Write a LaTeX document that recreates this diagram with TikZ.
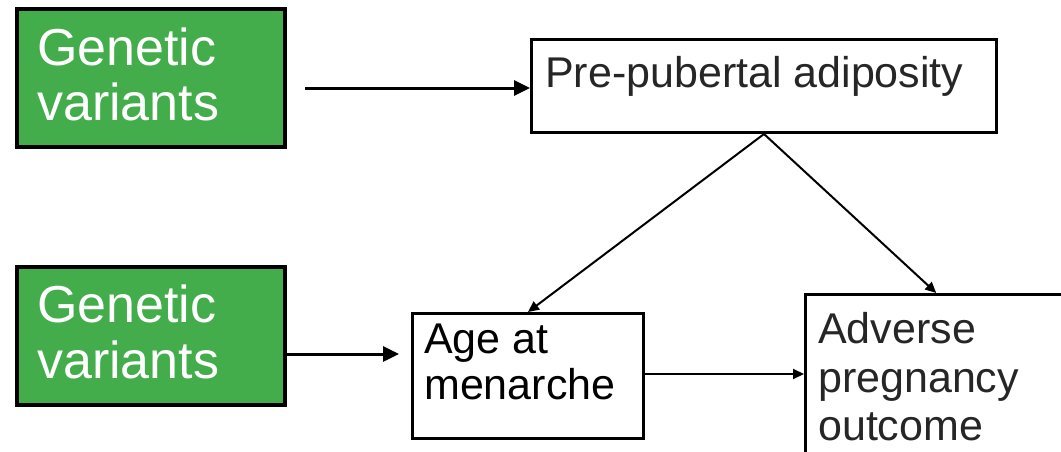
\documentclass[tikz,border=0pt]{standalone}
\usepackage{fontspec}
\setmainfont{Liberation Sans}
\usetikzlibrary{arrows.meta}
\definecolor{gvgreen}{HTML}{42AD4A}
\definecolor{txtgray}{HTML}{262626}
\begin{document}
\begin{tikzpicture}[x=1pt,y=-1pt,
  gbox/.style={draw=black, fill=gvgreen, line width=4pt, rectangle, inner sep=0pt, anchor=north west},
  wbox/.style={draw=black, fill=white, rectangle, inner sep=0pt, anchor=north west},
  gtext/.style={text=white, font=\fontsize{52}{57}\selectfont, inner sep=0pt, anchor=base west},
  btext/.style={text=txtgray, font=\fontsize{43}{48}\selectfont, inner sep=0pt, anchor=base west},
  bigarrow/.style={line width=3pt, -{Triangle[length=16pt,width=15pt]}},
  smallarrow/.style={line width=2pt, -{Triangle[length=11pt,width=10pt]}}]
\useasboundingbox (0,0) rectangle (1061,451);
\clip (0,0) rectangle (1061,451);

% instrument boxes
\node[gbox, minimum width=268pt, minimum height=138pt] (g1) at (15,7) {};
\node[gbox, minimum width=268pt, minimum height=138pt] (g2) at (15,265) {};
\node[gtext] (g1a) at (37,65) {Genetic};
\node[gtext] (g1b) at (37,120) {variants};
\node[gtext] (g2a) at (37,322) {Genetic};
\node[gtext] (g2b) at (37,378) {variants};

% exposure and outcome boxes
\node[wbox, line width=3pt, minimum width=465pt, minimum height=93pt] (pp) at (530,38) {};
\node[btext] (ppt) at (545,87) {Pre-pubertal adiposity};

\node[wbox, line width=3pt, minimum width=231pt, minimum height=125pt] (age) at (411,312) {};
\node[btext, text=black] (agea) at (424,353) {Age at};
\node[btext, text=black] (ageb) at (424,399) {menarche};

\node[wbox, line width=2.5pt, minimum width=262pt, minimum height=200pt] (adv) at (804,293) {};
\node[btext] (adva) at (818,343) {Adverse};
\node[btext] (advb) at (818,392) {pregnancy};
\node[btext] (advc) at (818,440) {outcome};

% connectors
\coordinate (s1) at (305,88);
\coordinate (r2) at (283,354);
\coordinate (r3) at (642,374);
\draw[bigarrow] (s1) -- (s1 -| pp.west);
\draw[bigarrow, shorten >=12pt] (g2.east |- r2) -- (age.west |- r2);
\draw[smallarrow] (age.east |- r3) -- (adv.west |- r3);
\draw[smallarrow] (pp.south) -- (age.north);
\draw[smallarrow] (pp.south) -- (adv.north);
\end{tikzpicture}
\end{document}
